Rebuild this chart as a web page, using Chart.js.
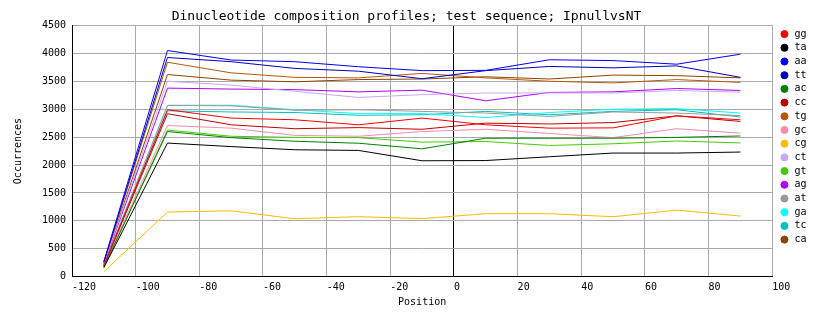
<!DOCTYPE html>
<html>
<head>
<meta charset="utf-8">
<script src="https://cdn.jsdelivr.net/npm/chart.js@4/dist/chart.umd.min.js"></script>
<style>
  html, body { margin: 0; padding: 0; background: #ffffff; }
  canvas { display: block; }
</style>
</head>
<body>
<canvas id="profile" width="834" height="328"></canvas>
<script>
// Window centres (position relative to site)
const positions = [-110, -90, -70, -50, -30, -10, 10, 30, 50, 70, 90];

// Dinucleotide occurrence counts per window
const gg = [200, 2990, 2840, 2810, 2720, 2840, 2720, 2660, 2665, 2880, 2810];
const ta = [160, 2393, 2330, 2273, 2261, 2076, 2080, 2148, 2214, 2214, 2232];
const aa = [270, 4050, 3880, 3850, 3760, 3690, 3695, 3885, 3870, 3805, 3985];
const tt = [262, 3925, 3850, 3730, 3680, 3545, 3690, 3765, 3740, 3775, 3570];
const ac = [174, 2600, 2490, 2425, 2390, 2290, 2480, 2480, 2480, 2495, 2520];
const cc = [195, 2918, 2720, 2650, 2670, 2640, 2750, 2735, 2760, 2880, 2780];
const tg = [257, 3840, 3650, 3570, 3560, 3640, 3560, 3500, 3470, 3530, 3480];
const gc = [181, 2708, 2660, 2530, 2515, 2600, 2640, 2565, 2490, 2650, 2570];
const cg = [90, 1158, 1180, 1038, 1075, 1040, 1128, 1128, 1074, 1193, 1086];
const ct = [235, 3500, 3430, 3320, 3210, 3260, 3290, 3290, 3290, 3335, 3305];
const gt = [176, 2626, 2515, 2495, 2490, 2410, 2420, 2350, 2380, 2430, 2395];
const ag = [226, 3377, 3360, 3350, 3310, 3340, 3150, 3300, 3310, 3370, 3335];
const at = [205, 3066, 3060, 2980, 2990, 2960, 2930, 2870, 2950, 2930, 2885];
const ga = [208, 3070, 3070, 2990, 2920, 2920, 2850, 2940, 3000, 3010, 2930];
const tc = [199, 2970, 2950, 2940, 2890, 2900, 2960, 2900, 2960, 2990, 2860];
const ca = [242, 3620, 3520, 3490, 3530, 3540, 3580, 3540, 3610, 3600, 3560];

const seriesNames = ['gg', 'ta', 'aa', 'tt', 'ac', 'cc', 'tg', 'gc', 'cg', 'ct', 'gt', 'ag', 'at', 'ga', 'tc', 'ca'];
const seriesValues = { gg, ta, aa, tt, ac, cc, tg, gc, cg, ct, gt, ag, at, ga, tc, ca };

// Tick values
const xTicks = [-120, -100, -80, -60, -40, -20, 0, 20, 40, 60, 80, 100];
const yTicks = [0, 500, 1000, 1500, 2000, 2500, 3000, 3500, 4000, 4500];

const lineColors = {
  gg: '#ff0000', ta: '#000000', aa: '#0000ff', tt: '#0000c0',
  ac: '#008000', cc: '#c00000', tg: '#b8560a', gc: '#ff88b0',
  cg: '#ffbb00', ct: '#c8a8f8', gt: '#44cc00', ag: '#b000ff',
  at: '#999999', ga: '#00ffff', tc: '#00c0c0', ca: '#8b4500'
};

const MONO = '"DejaVu Sans Mono", "Liberation Mono", monospace';
const GRID = '#aaaaaa';

// Moves the legend column a few pixels clear of the plot frame
const legendGap = {
  id: 'legendGap',
  afterLayout(chart) {
    const lg = chart.legend;
    if (lg) { lg.left += 3.5; lg.right += 3.5; }
  }
};

new Chart(document.getElementById('profile'), {
  type: 'line',
  data: {
    datasets: seriesNames.map(name => ({
      label: name,
      data: positions.map((p, i) => ({ x: p, y: seriesValues[name][i] })),
      borderColor: lineColors[name],
      backgroundColor: lineColors[name],
      borderWidth: 1,
      pointRadius: 0,
      pointStyle: 'circle',
      tension: 0,
      fill: false
    }))
  },
  options: {
    responsive: false,
    animation: false,
    events: [],
    layout: { padding: { left: 0, right: 21, top: 0, bottom: 0 } },
    plugins: {
      title: {
        display: true,
        text: 'Dinucleotide composition profiles; test sequence; IpnullvsNT',
        color: '#000000',
        font: { family: MONO, size: 13, weight: 'normal', lineHeight: 1.2 },
        padding: { top: 9, bottom: 0.8 }
      },
      legend: {
        position: 'right',
        align: 'start',
        fullSize: false,
        labels: {
          usePointStyle: true,
          pointStyle: 'circle',
          boxWidth: 10,
          boxHeight: 5,
          padding: 3.7,
          color: '#000000',
          font: { family: MONO, size: 10 }
        }
      },
      tooltip: { enabled: false }
    },
    scales: {
      x: {
        type: 'linear',
        min: xTicks[0],
        max: xTicks[xTicks.length - 1],
        afterBuildTicks(scale) { scale.ticks = xTicks.map(v => ({ value: v })); },
        ticks: {
          align: 'start',
          padding: 5,
          maxRotation: 0,
          autoSkip: false,
          color: '#000000',
          font: { family: MONO, size: 10 },
          callback: v => String(v)
        },
        grid: {
          drawTicks: false,
          lineWidth: 1,
          color: ctx => (ctx.tick && (ctx.tick.value === 0 || ctx.tick.value === xTicks[0])) ? '#000000' : GRID
        },
        border: { color: '#000000', width: 1 },
        title: {
          display: true,
          text: 'Position',
          color: '#000000',
          font: { family: MONO, size: 10 },
          padding: { top: 0, bottom: 20 }
        },
        afterFit(scale) { scale.height = 51.3; }
      },
      y: {
        type: 'linear',
        min: yTicks[0],
        max: yTicks[yTicks.length - 1],
        afterBuildTicks(scale) { scale.ticks = yTicks.map(v => ({ value: v })); },
        ticks: {
          padding: 6,
          color: '#000000',
          font: { family: MONO, size: 10 },
          callback: v => String(v)
        },
        grid: {
          drawTicks: false,
          lineWidth: 1,
          color: ctx => (ctx.tick && ctx.tick.value === 0) ? '#000000' : GRID
        },
        border: { color: '#000000', width: 1 },
        title: {
          display: true,
          text: 'Occurrences',
          color: '#000000',
          font: { family: MONO, size: 10 },
          padding: { top: 12, bottom: 0 }
        },
        afterFit(scale) { scale.width = 72; }
      }
    }
  },
  plugins: [legendGap]
});
</script>
</body>
</html>
